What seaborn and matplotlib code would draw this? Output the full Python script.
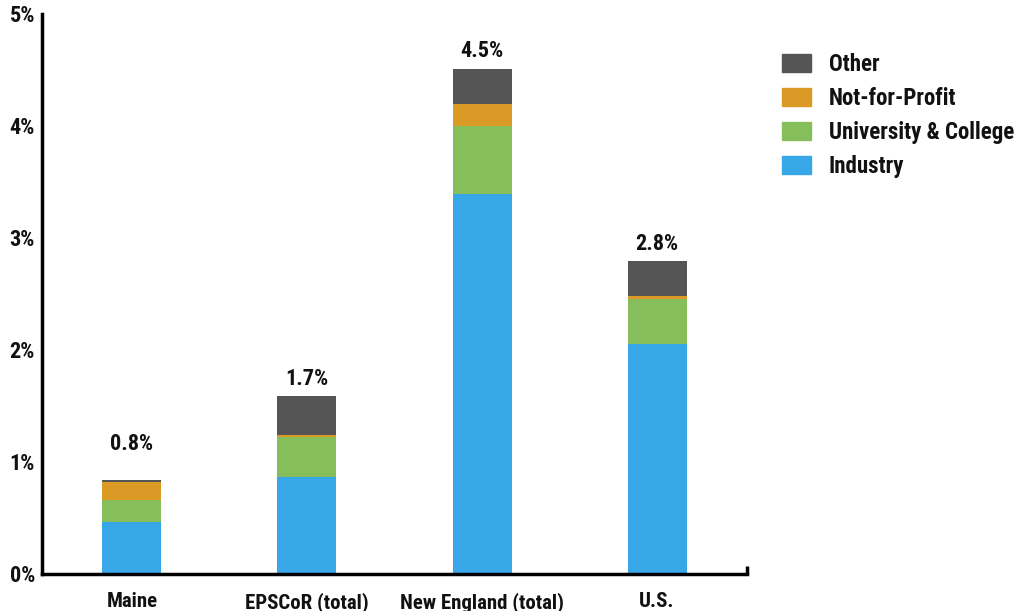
import matplotlib
matplotlib.use("Agg")
import matplotlib.pyplot as plt
import matplotlib.patches as mpatches
from matplotlib.ticker import FixedLocator
import numpy as np
import seaborn as sns

categories = ["Maine", "EPSCoR (total)", "New England (total)", "U.S."]
industry = [0.465, 0.866, 3.39, 2.05]
university = [0.195, 0.354, 0.61, 0.40]
not_for_profit = [0.16, 0.02, 0.19, 0.03]
other = [0.02, 0.35, 0.32, 0.31]
total_labels = ["0.8%", "1.7%", "4.5%", "2.8%"]
y_ticks = [0, 1, 2, 3, 4, 5]
y_tick_labels = ["0%", "1%", "2%", "3%", "4%", "5%"]

series = [
    ("Industry", industry, "#38A7E7"),
    ("University & College", university, "#87BE5C"),
    ("Not-for-Profit", not_for_profit, "#DB9A26"),
    ("Other", other, "#555555"),
]

sns.set_theme(style="white")
FONT = ["Roboto Condensed", "DejaVu Sans"]
plt.rcParams["font.family"] = FONT
plt.rcParams["font.weight"] = "bold"

fig = plt.figure(figsize=(10.22, 6.11), dpi=100)
ax = fig.add_axes([0.041, 0.0606, 0.690, 0.917])

bottom = np.zeros(len(categories))
for name, vals, col in series:
    sns.barplot(x=categories, y=vals, bottom=bottom, color=col, width=0.337,
                saturation=1, ax=ax, linewidth=0, edgecolor="none")
    bottom = bottom + np.array(vals)

label_pads = [0.22, 0.055, 0.055, 0.055]
for i, (tot, lab) in enumerate(zip(bottom, total_labels)):
    ax.text(i, tot + label_pads[i], lab, ha="center", va="bottom",
            fontsize=16, fontweight="bold", color="#111111")

ax.set_xlim(-0.514, 3.514)
ax.set_ylim(0, 5)
ax.set_yticks(y_ticks)
ax.set_yticklabels(y_tick_labels)
ax.tick_params(axis="both", length=0, colors="#111111")
ax.tick_params(axis="y", pad=5, labelsize=16)
ax.tick_params(axis="x", pad=13, labelsize=15)
for lab in ax.get_xticklabels() + ax.get_yticklabels():
    lab.set_fontweight("bold")
ax.set_xlabel("")
ax.set_ylabel("")

# end caps on axes
ax.yaxis.set_minor_locator(FixedLocator([5]))
ax.xaxis.set_minor_locator(FixedLocator([3.514]))
ax.tick_params(axis="y", which="minor", direction="in", length=6, width=2.5, color="black", left=True)
ax.tick_params(axis="x", which="minor", direction="in", length=6, width=2.5, color="black", bottom=True)

for s in ["top", "right"]:
    ax.spines[s].set_visible(False)
for s in ["left", "bottom"]:
    ax.spines[s].set_color("black")
    ax.spines[s].set_linewidth(2.5)

handles = [mpatches.Patch(color=col, label=name) for name, vals, col in series[::-1]]
leg = fig.legend(handles=handles, loc="upper left", bbox_to_anchor=(782 / 1022, 1 - 53 / 611),
                 frameon=False, fontsize=16.5, handlelength=1.25, handleheight=0.85,
                 labelspacing=0.48, handletextpad=0.8, borderpad=0, borderaxespad=0)
for t in leg.get_texts():
    t.set_fontweight("bold")
    t.set_color("#111111")

fig.savefig("out.png", dpi=100)
